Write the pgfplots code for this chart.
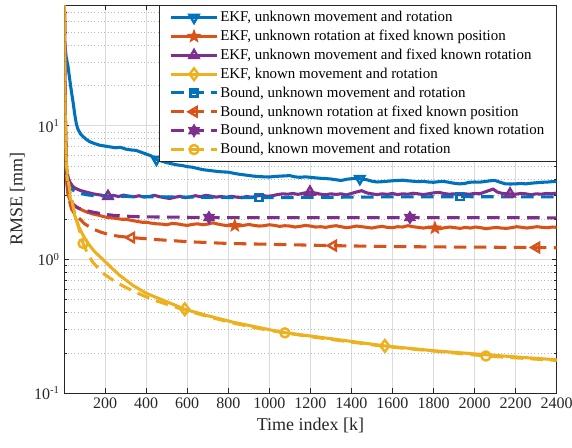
\documentclass[border=0pt]{standalone}
\usepackage{fontspec}
\setmainfont{Liberation Serif}
\usepackage{pgfplots}
\pgfplotsset{compat=1.18}
\usetikzlibrary{plotmarks}

\definecolor{mblue}{rgb}{0,0.447,0.741}
\definecolor{morange}{rgb}{0.850,0.325,0.098}
\definecolor{myellow}{rgb}{0.929,0.694,0.125}
\definecolor{mpurple}{rgb}{0.494,0.184,0.556}
\definecolor{maxis}{rgb}{0.15,0.15,0.15}

% five- and six-pointed star marks
\pgfdeclareplotmark{pentagram}{%
  \pgfpathmoveto{\pgfpointpolar{90}{\pgfplotmarksize}}%
  \pgfpathlineto{\pgfpointpolar{126}{0.42\pgfplotmarksize}}%
  \pgfpathlineto{\pgfpointpolar{162}{\pgfplotmarksize}}%
  \pgfpathlineto{\pgfpointpolar{198}{0.42\pgfplotmarksize}}%
  \pgfpathlineto{\pgfpointpolar{234}{\pgfplotmarksize}}%
  \pgfpathlineto{\pgfpointpolar{270}{0.42\pgfplotmarksize}}%
  \pgfpathlineto{\pgfpointpolar{306}{\pgfplotmarksize}}%
  \pgfpathlineto{\pgfpointpolar{342}{0.42\pgfplotmarksize}}%
  \pgfpathlineto{\pgfpointpolar{18}{\pgfplotmarksize}}%
  \pgfpathlineto{\pgfpointpolar{54}{0.42\pgfplotmarksize}}%
  \pgfpathclose
  \pgfusepathqfillstroke}
\pgfdeclareplotmark{hexagram}{%
  \pgfpathmoveto{\pgfpointpolar{90}{\pgfplotmarksize}}%
  \pgfpathlineto{\pgfpointpolar{120}{0.58\pgfplotmarksize}}%
  \pgfpathlineto{\pgfpointpolar{150}{\pgfplotmarksize}}%
  \pgfpathlineto{\pgfpointpolar{180}{0.58\pgfplotmarksize}}%
  \pgfpathlineto{\pgfpointpolar{210}{\pgfplotmarksize}}%
  \pgfpathlineto{\pgfpointpolar{240}{0.58\pgfplotmarksize}}%
  \pgfpathlineto{\pgfpointpolar{270}{\pgfplotmarksize}}%
  \pgfpathlineto{\pgfpointpolar{300}{0.58\pgfplotmarksize}}%
  \pgfpathlineto{\pgfpointpolar{330}{\pgfplotmarksize}}%
  \pgfpathlineto{\pgfpointpolar{0}{0.58\pgfplotmarksize}}%
  \pgfpathlineto{\pgfpointpolar{30}{\pgfplotmarksize}}%
  \pgfpathlineto{\pgfpointpolar{60}{0.58\pgfplotmarksize}}%
  \pgfpathclose
  \pgfusepathqfillstroke}

\tikzset{
  mk/.style={solid, line width=1.8pt},
  mkf/.style={solid, line width=0.8pt},
}
\pgfplotsset{
  ekf/.style={line width=2.3pt, solid, mark repeat=1000, mark phase=1000},
  bnd/.style={line width=2.3pt, dash pattern=on 9.5pt off 5.5pt, mark repeat=1000, mark phase=1000},
  marks/.style={only marks, forget plot},
}

\begin{document}
\begin{tikzpicture}
\begin{axis}[
  scale only axis, width=369.3pt, height=291.2pt,
  ymode=log, xmin=1, xmax=2400, ymin=0.1, ymax=80,
  xtick={200,400,...,2400},
  ytick={0.1,1,10},
  yticklabels={10\textsuperscript{-1},10\textsuperscript{0},10\textsuperscript{1}},
  minor ytick={0.2,0.3,0.4,0.5,0.6,0.7,0.8,0.9,2,3,4,5,6,7,8,9,20,30,40,50,60,70,80},
  grid=both,
  major grid style={draw=black!14, line width=0.5pt},
  minor grid style={draw=black!28, line width=0.5pt, dotted},
  tick align=inside,
  major tick length=3.6pt, minor tick length=2pt,
  axis line style={maxis, line width=0.6pt},
  every tick/.style={maxis, line width=0.6pt},
  /pgf/number format/assume math mode=true,
  /pgf/number format/1000 sep={},
  tick label style={font=\fontsize{12}{14}\selectfont, text=maxis},
  label style={font=\fontsize{13.5}{15}\selectfont, text=maxis},
  xlabel={Time index [k]},
  ylabel={RMSE [mm]},
  legend cell align=left,
  legend style={at={(1,1)}, anchor=north east, draw=maxis, line width=0.6pt,
    fill=white, font=\fontsize{11.2}{13}\selectfont, text=black,
    row sep=0.8pt, inner xsep=7.5pt, inner ysep=2.5pt,
    nodes={inner xsep=1.5pt}},
  legend image code/.code={%
    \draw[#1, mark repeat=2, mark phase=2]
      plot coordinates {(0cm,0cm) (0.6cm,0cm) (1.2cm,0cm)};},
]

% ---- EKF, unknown movement and rotation
\addplot[mblue, ekf, mark=triangle, mark size=4pt, mark options={mk, rotate=180}] coordinates {
(1,120) (3,42) (10,33) (19,28) (28,22) (36,18) (44,15) (52,12.2) (60,10.3) (68,9.4)
(80,8.7) (93,8.3) (109,7.9) (125,7.6) (150,7.35) (175,7.15) (200,7.05) (225,6.95)
(250,6.85) (275,6.9) (300,6.7) (325,6.6) (350,6.55) (375,6.35) (400,6.15) (425,5.95)
(450,5.6) (475,5.45) (500,5.3) (525,5.2) (550,5.1) (575,5.05) (600,4.95) (625,4.9)
(650,4.8) (675,4.7) (700,4.65) (725,4.6) (750,4.55) (775,4.52) (800,4.5) (825,4.42)
(850,4.35) (875,4.3) (900,4.25) (925,4.2) (950,4.18) (975,4.15) (1000,4.14) (1025,4.18)
(1050,4.2) (1075,4.22) (1100,4.24) (1125,4.15) (1150,4.12) (1175,4.15) (1200,4.12)
(1225,4.08) (1250,4.05) (1275,4.03) (1300,4.0) (1325,3.95) (1350,3.9) (1375,3.98)
(1400,4.02) (1425,4.03) (1441,4.02) (1475,3.95) (1500,3.85) (1525,3.8) (1550,3.82)
(1575,3.85) (1600,3.88) (1625,3.9) (1650,3.92) (1675,3.88) (1700,3.85) (1725,3.82)
(1750,3.84) (1775,3.8) (1800,3.78) (1825,3.82) (1850,3.84) (1875,3.78) (1900,3.72)
(1925,3.68) (1950,3.7) (1975,3.78) (2000,3.8) (2025,3.79) (2050,3.83) (2075,3.88)
(2100,3.9) (2125,3.78) (2150,3.68) (2175,3.67) (2200,3.68) (2225,3.7) (2250,3.68)
(2275,3.72) (2300,3.75) (2325,3.78) (2350,3.79) (2375,3.82) (2400,3.83)};
\addlegendentry{EKF, unknown movement and rotation}

% ---- EKF, unknown rotation at fixed known position
\addplot[morange, ekf, mark=pentagram, mark size=4.6pt, mark options={mkf, fill=morange}] coordinates {
(1,120) (5,12) (12,4.0) (19,3.05) (30,2.75) (44,2.6) (60,2.48) (77,2.39) (100,2.3)
(120,2.24) (141,2.19) (165,2.15) (190,2.1) (207,2.07) (230,2.05) (255,2.03) (280,2.0)
(304,2.0) (330,1.96) (355,1.93) (380,1.9) (402,1.9) (425,1.87) (450,1.85) (475,1.84)
(500,1.82) (525,1.86) (550,1.85) (575,1.82) (600,1.8) (625,1.83) (650,1.85) (675,1.82)
(700,1.84) (725,1.88) (750,1.84) (775,1.81) (800,1.79) (832,1.79) (850,1.78) (875,1.8)
(900,1.83) (925,1.8) (950,1.78) (975,1.79) (1000,1.82) (1025,1.8) (1050,1.77) (1075,1.79)
(1100,1.78) (1125,1.75) (1150,1.77) (1175,1.8) (1200,1.78) (1225,1.75) (1250,1.76)
(1275,1.74) (1300,1.77) (1325,1.79) (1350,1.76) (1375,1.73) (1400,1.75) (1425,1.78)
(1450,1.76) (1475,1.74) (1500,1.72) (1525,1.75) (1550,1.77) (1575,1.74) (1600,1.73)
(1625,1.76) (1650,1.75) (1675,1.79) (1700,1.76) (1725,1.74) (1750,1.72) (1775,1.74)
(1807,1.72) (1830,1.7) (1855,1.73) (1880,1.75) (1905,1.73) (1930,1.71) (1955,1.74)
(1980,1.72) (2005,1.75) (2030,1.73) (2055,1.7) (2080,1.72) (2105,1.74) (2130,1.72)
(2155,1.71) (2180,1.73) (2205,1.76) (2230,1.74) (2255,1.72) (2280,1.74) (2305,1.76)
(2330,1.74) (2355,1.73) (2380,1.75) (2400,1.74)};
\addlegendentry{EKF, unknown rotation at fixed known position}

% ---- EKF, unknown movement and fixed known rotation
\addplot[mpurple, ekf, mark=triangle, mark size=4pt, mark options={mk}] coordinates {
(1,120) (5,15) (12,4.8) (20,4.1) (28,3.8) (44,3.5) (60,3.38) (80,3.28) (109,3.19)
(141,3.1) (170,3.05) (195,3.0) (214,2.97) (240,3.02) (265,2.96) (290,3.03) (315,2.98)
(340,2.94) (365,3.0) (390,2.93) (415,2.96) (440,3.02) (465,2.95) (490,2.9) (515,2.86)
(540,2.92) (565,2.97) (590,2.9) (615,2.94) (640,3.0) (665,2.95) (690,3.02) (715,2.98)
(740,2.93) (765,2.96) (790,2.92) (815,2.97) (840,2.93) (865,2.9) (890,2.96) (915,2.92)
(940,2.99) (965,3.02) (990,2.97) (1015,3.0) (1040,3.06) (1065,3.1) (1090,3.08)
(1115,3.12) (1140,3.07) (1165,3.13) (1198,3.2) (1225,3.14) (1250,3.08) (1275,3.05)
(1300,3.1) (1325,3.07) (1350,3.1) (1375,3.04) (1400,3.12) (1425,3.2) (1450,3.27)
(1475,3.15) (1500,3.1) (1525,3.06) (1550,3.1) (1575,3.07) (1600,3.12) (1625,3.06)
(1650,3.1) (1675,3.08) (1700,3.13) (1725,3.1) (1750,3.06) (1775,3.1) (1800,3.15)
(1825,3.18) (1850,3.12) (1875,3.08) (1900,3.1) (1925,3.05) (1950,3.1) (1975,3.08)
(2000,3.12) (2025,3.1) (2050,3.2) (2075,3.3) (2091,3.36) (2110,3.2) (2135,3.12)
(2173,3.1) (2200,3.08) (2225,3.12) (2250,3.1) (2275,3.05) (2300,3.1) (2325,3.08)
(2350,3.12) (2375,3.1) (2400,3.14)};
\addlegendentry{EKF, unknown movement and fixed known rotation}

% ---- EKF, known movement and rotation
\addplot[myellow, ekf, mark=diamond, mark size=4.4pt, mark options={mk}] coordinates {
(1,120) (5,15) (12,4.5) (20,3.6) (28,3.0) (40,2.5) (52,2.13) (65,1.88) (77,1.69)
(100,1.45) (125,1.27) (150,1.14) (190,1.0) (230,0.87) (272,0.76) (336,0.64) (400,0.56)
(450,0.52) (520,0.47) (588,0.425) (700,0.38) (824,0.34) (950,0.31) (1068,0.285)
(1200,0.268) (1350,0.25) (1563,0.226) (1800,0.208) (2000,0.197) (2200,0.187) (2400,0.178)};
\addlegendentry{EKF, known movement and rotation}

% ---- Bound, unknown movement and rotation
\addplot[mblue, bnd, mark=square, mark size=2.7pt, mark options={mk}] coordinates {
(1,120) (4,12) (8,6) (12,4.6) (19,3.6) (30,3.4) (44,3.3) (70,3.15) (109,3.05) (150,3.0)
(250,2.97) (400,2.95) (600,2.93) (800,2.91) (950,2.9) (1300,2.92) (1600,2.94)
(1930,2.95) (2400,2.94)};
\addlegendentry{Bound, unknown movement and rotation}

% ---- Bound, unknown rotation at fixed known position
\addplot[morange, bnd, mark=triangle, mark size=4pt, mark options={mk, rotate=90}] coordinates {
(1,120) (5,10) (12,4.0) (20,3.0) (36,2.39) (56,2.15) (77,2.01) (100,1.85) (141,1.69)
(180,1.6) (223,1.53) (270,1.49) (328,1.46) (450,1.41) (600,1.36) (792,1.32) (1000,1.3)
(1311,1.27) (1600,1.25) (1900,1.24) (2302,1.23) (2400,1.225)};
\addlegendentry{Bound, unknown rotation at fixed known position}

% ---- Bound, unknown movement and fixed known rotation
\addplot[mpurple, bnd, mark=hexagram, mark size=4.6pt, mark options={mkf, fill=mpurple}] coordinates {
(1,120) (5,15) (12,4.5) (20,3.6) (30,3.0) (44,2.55) (70,2.42) (100,2.34) (141,2.26)
(190,2.19) (240,2.14) (353,2.09) (450,2.08) (600,2.07) (706,2.06) (900,2.06) (1200,2.06)
(1685,2.06) (2000,2.06) (2400,2.05)};
\addlegendentry{Bound, unknown movement and fixed known rotation}

% ---- Bound, known movement and rotation
\addplot[myellow, bnd, mark=o, mark size=3.4pt, mark options={mk}] coordinates {
(1,120) (5,12) (12,5.0) (19,4.0) (30,3.1) (44,2.5) (56,2.1) (68,1.8) (80,1.55) (93,1.32)
(115,1.1) (141,0.95) (170,0.85) (200,0.77) (250,0.68) (336,0.58) (434,0.5) (564,0.43)
(700,0.375) (824,0.335) (950,0.305) (1076,0.283) (1200,0.265) (1350,0.247) (1563,0.224)
(1800,0.207) (2055,0.19) (2200,0.184) (2400,0.176)};
\addlegendentry{Bound, known movement and rotation}

% ---- marks along the curves
\addplot[mblue, marks, mark=triangle, mark size=4pt, mark options={mk, rotate=180}]
  coordinates {(450,5.6) (1441,4.02)};
\addplot[morange, marks, mark=pentagram, mark size=4.6pt, mark options={mkf, fill=morange}]
  coordinates {(832,1.79) (1807,1.72)};
\addplot[mpurple, marks, mark=triangle, mark size=4pt, mark options={mk}]
  coordinates {(214,2.97) (1198,3.2) (2173,3.1)};
\addplot[myellow, marks, mark=diamond, mark size=4.4pt, mark options={mk}]
  coordinates {(588,0.425) (1563,0.226)};
\addplot[mblue, marks, mark=square, mark size=2.7pt, mark options={mk}]
  coordinates {(950,2.9) (1930,2.95)};
\addplot[morange, marks, mark=triangle, mark size=4pt, mark options={mk, rotate=90}]
  coordinates {(328,1.46) (1311,1.27) (2302,1.23)};
\addplot[mpurple, marks, mark=hexagram, mark size=4.6pt, mark options={mkf, fill=mpurple}]
  coordinates {(706,2.06) (1685,2.06)};
\addplot[myellow, marks, mark=o, mark size=3.4pt, mark options={mk}]
  coordinates {(93,1.32) (1076,0.283) (2055,0.19)};
\end{axis}
\pgfresetboundingbox
\useasboundingbox (-48.2pt,-40.3pt) rectangle (380.8pt,294.95pt);
\end{tikzpicture}
\end{document}
